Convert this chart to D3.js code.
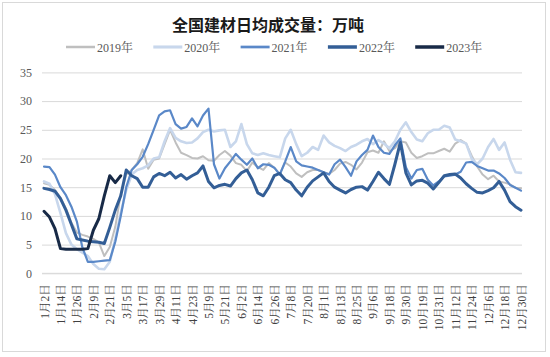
<!DOCTYPE html>
<html><head><meta charset="utf-8">
<script src="https://cdn.jsdelivr.net/npm/d3@7/dist/d3.min.js"></script>
<style>
body{margin:0;background:#fff;}
svg{display:block;}
</style></head>
<body>
<svg id="c" width="550" height="357"></svg>
<script>
const title = "全国建材日均成交量：万吨";
const seriesNames = ["2019年","2020年","2021年","2022年","2023年"];
const xTickLabels = ["1月2日","1月14日","1月26日","2月9日","2月21日","3月5日","3月17日","3月29日","4月11日","4月23日","5月9日","5月21日","6月2日","6月14日","6月26日","7月8日","7月20日","8月1日","8月13日","8月25日","9月6日","9月18日","9月30日","10月19日","10月31日","11月12日","11月24日","12月6日","12月18日","12月30日"];
const yTicks = [0,5,10,15,20,25,30,35];
// values sampled every 4 trading-day categories (category index = 4*k)
const v2019 = [15.7,15.4,14.5,13.2,11.3,8.8,7.1,6.7,6.4,6.0,5.4,3.0,4.6,8.1,13.8,17.2,18.0,19.2,21.6,18.2,19.8,20.0,22.5,25.0,22.8,21.0,20.6,20.1,20.0,20.4,19.7,19.6,20.6,21.3,20.5,19.2,18.9,17.8,19.3,18.5,18.0,19.2,18.4,17.3,19.3,18.6,17.4,16.8,17.6,18.0,18.0,17.6,17.3,18.0,19.1,19.4,18.9,18.1,19.3,21.1,21.4,21.0,23.0,21.3,21.8,23.0,22.8,21.0,20.1,20.4,20.9,20.9,21.3,21.7,21.2,22.6,23.2,22.6,20.5,18.6,17.2,16.4,17.0,16.0,15.8,15.5,14.9,14.8];
const v2020 = [16.0,15.6,13.8,10.5,7.0,5.0,4.2,3.6,3.0,1.6,0.8,0.7,2.0,6.0,10.5,14.5,17.2,18.0,18.3,18.8,20.0,20.2,23.0,25.3,23.6,23.0,22.7,22.8,23.5,24.6,25.0,24.7,24.9,25.0,22.0,23.0,26.0,22.5,20.9,20.6,20.9,20.6,20.4,20.2,23.5,25.0,22.5,20.4,21.0,22.0,21.5,24.0,22.8,22.2,21.8,21.3,22.0,22.4,23.0,23.4,22.5,23.2,22.6,21.8,23.0,25.0,26.3,24.6,23.3,23.0,24.4,25.0,25.0,25.7,25.4,23.3,23.0,22.6,20.0,19.0,20.0,22.0,23.4,21.5,22.8,19.8,17.6,17.5];
const v2021 = [18.6,18.5,17.2,15.0,13.6,11.6,9.0,4.5,2.0,2.0,2.1,2.2,2.3,5.5,10.0,15.0,18.0,19.0,20.3,22.5,25.0,27.5,28.2,28.4,26.0,25.2,25.5,27.0,25.6,27.5,28.7,19.0,16.5,18.3,19.5,20.8,19.8,18.9,20.0,18.3,19.0,18.9,18.4,17.2,19.5,22.0,19.5,18.8,18.6,18.4,18.0,17.6,17.2,19.0,19.8,18.5,17.0,19.5,20.6,21.5,24.0,22.0,21.0,20.8,22.3,23.5,18.5,16.5,18.0,18.2,16.3,15.3,16.0,16.9,17.0,17.2,17.7,19.3,19.4,18.7,18.3,17.9,17.9,17.4,16.6,15.4,14.9,14.4];
const v2022 = [14.8,14.6,14.3,13.0,11.0,8.5,6.0,5.8,5.6,5.5,5.4,5.2,8.0,11.0,13.5,18.0,17.0,16.5,15.0,15.0,16.8,17.4,17.0,17.6,16.6,17.2,16.4,17.0,17.5,18.7,16.0,14.9,15.3,15.5,15.2,16.5,17.5,18.0,16.3,14.0,13.5,15.0,17.0,17.4,16.3,15.8,14.5,13.5,15.0,16.1,16.8,17.5,16.0,15.0,14.5,14.0,14.6,15.0,15.1,14.5,16.0,17.6,16.5,15.5,19.0,22.8,17.5,15.4,16.1,16.2,15.7,14.7,15.8,17.0,17.2,17.3,16.6,15.6,14.8,14.1,14.0,14.4,14.9,16.0,14.5,12.5,11.6,11.0];
const v2023 = [10.8,9.8,7.8,4.3,4.2,4.2,4.2,4.2,4.3,7.5,9.5,13.5,17.0,15.8,17.0];

const seriesValues = [v2019,v2020,v2021,v2022,v2023];
const colors = ["#BFBFBF","#C8D7EC","#5A88C8","#335E96","#182A47"];
const widths = [2,2.6,2.2,3,3];

const svg = d3.select("#c");
const W = 550, H = 357;
const x0 = 42, x1 = 522, yTop = 72.4, yBot = 273.3;
const step = 4, nCat = 348;

svg.append("rect").attr("x",2.5).attr("y",2.5).attr("width",543).attr("height",349)
  .attr("fill","#fff").attr("stroke","#D9D9D9").attr("stroke-width",1);

const x = d3.scaleLinear().domain([0,nCat]).range([44,521]);
const y = d3.scaleLinear().domain([0,35]).range([yBot,yTop]);

// title
svg.append("text").attr("x",268).attr("y",31).attr("text-anchor","middle")
  .attr("font-family","'Noto Sans CJK SC','Noto Sans',sans-serif").attr("font-weight","bold")
  .attr("font-size",16).attr("fill","#1a1a1a").text(title);

// y axis + grid
const yAxis = d3.axisLeft(y).tickValues(yTicks).tickSize(-(x1-x0)).tickPadding(10);
const gy = svg.append("g").attr("transform",`translate(${x0},0)`).call(yAxis);
gy.select(".domain").remove();
gy.selectAll(".tick line").attr("stroke","#D9D9D9").attr("stroke-width",1);
gy.selectAll(".tick text").attr("font-family","'Liberation Serif','Times New Roman',serif")
  .attr("font-size",12).attr("fill","#595959");

// x axis
const tickIdx = xTickLabels.map((d,i)=>i*12);
const xAxis = d3.axisBottom(x).tickValues(tickIdx).tickSize(0).tickFormat((d,i)=>xTickLabels[i]);
const gx = svg.append("g").attr("transform",`translate(0,${yBot})`).call(xAxis);
gx.select(".domain").attr("d",`M${x0},0H${x1}`).attr("stroke","#D9D9D9");
gx.selectAll(".tick text")
  .attr("font-family","'Liberation Serif','Noto Serif CJK SC','Noto Sans CJK SC',serif")
  .attr("font-size",11.5).attr("fill","#404040")
  .attr("text-anchor","end").attr("y",0).attr("dy","0.35em")
  .attr("transform","translate(0,11) rotate(-90)");

// lines
const line = d3.line().x((d,i)=>x(i*step)).y(d=>y(d)).curve(d3.curveLinear);
seriesValues.forEach((vals,s)=>{
  svg.append("path").datum(vals).attr("d",line).attr("fill","none")
    .attr("stroke",colors[s]).attr("stroke-width",widths[s])
    .attr("stroke-linejoin","round").attr("stroke-linecap","round");
});

// legend
const lg = svg.append("g");
seriesNames.forEach((n,i)=>{
  const lx = 66 + i*87.3;
  lg.append("line").attr("x1",lx).attr("x2",lx+29).attr("y1",47).attr("y2",47)
    .attr("stroke",colors[i]).attr("stroke-width",widths[i]+0.5);
  lg.append("text").attr("x",lx+31).attr("y",51.5)
    .attr("font-family","'Liberation Serif','Noto Serif CJK SC','Noto Sans CJK SC',serif")
    .attr("font-size",12).attr("fill","#595959").text(n);
});
</script>
</body></html>
